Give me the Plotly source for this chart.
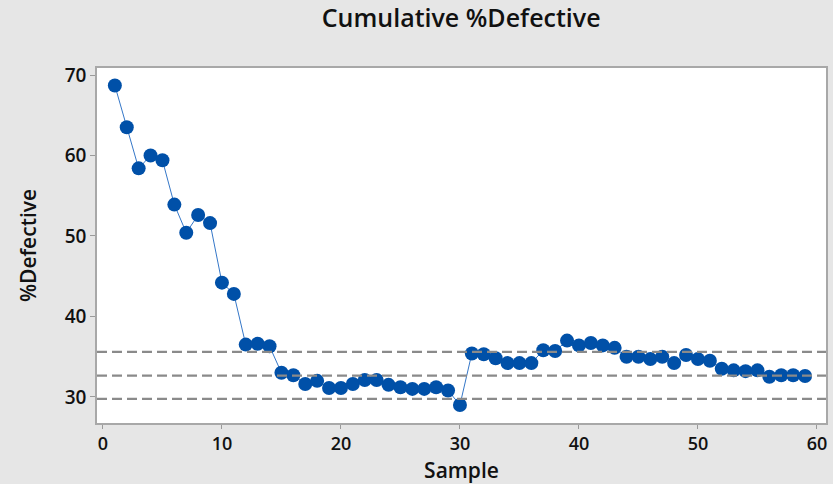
import plotly.graph_objects as go

# Cumulative percent defective per sample
samples = list(range(1, 60))
pct_defective = [
    68.7, 63.5, 58.4, 60.0, 59.4, 53.9, 50.4, 52.6, 51.6, 44.2,
    42.8, 36.5, 36.6, 36.3, 33.0, 32.7, 31.6, 32.0, 31.1, 31.1,
    31.6, 32.1, 32.1, 31.5, 31.2, 31.0, 31.0, 31.2, 30.8, 29.0,
    35.4, 35.3, 34.8, 34.2, 34.2, 34.2, 35.8, 35.7, 37.0, 36.4,
    36.7, 36.4, 36.1, 35.0, 35.0, 34.7, 35.0, 34.2, 35.2, 34.7,
    34.5, 33.5, 33.3, 33.2, 33.3, 32.5, 32.7, 32.7, 32.6,
]
# Reference levels: lower limit, center, upper limit
ref_levels = [29.75, 32.65, 35.6]

x_ticks = [0, 10, 20, 30, 40, 50, 60]
y_ticks = [30, 40, 50, 60, 70]

font_family = "Open Sans, DejaVu Sans, sans-serif"

fig = go.Figure()
fig.add_trace(go.Scatter(
    x=samples, y=pct_defective, mode="lines+markers",
    line=dict(color="#3577c8", width=1),
    marker=dict(color="#0050a8", size=14, symbol="circle"),
    showlegend=False, hoverinfo="x+y",
))

for lvl in ref_levels:
    fig.add_hline(y=lvl, line=dict(color="#8a8a8a", width=2.2, dash="10px,5px"))

fig.update_layout(
    width=833, height=484,
    margin=dict(l=97, r=7, t=68, b=61),
    paper_bgcolor="#e6e6e6", plot_bgcolor="#ffffff",
    font=dict(family=font_family, color="#111111", weight=600),
    title=dict(text="Cumulative %Defective", x=0.5536, xanchor="center",
               y=0.962, yanchor="middle",
               font=dict(size=25, family=font_family, color="#111111",
                         weight=600)),
)
fig.update_xaxes(
    range=[-0.5, 60.76], tickvals=x_ticks, ticks="outside", ticklen=4,
    tickcolor="#9a9a9a", showgrid=False, zeroline=False, automargin=False,
    showline=True, linecolor="#a8a8a8", linewidth=1.5, mirror=True,
    tickfont=dict(size=18, color="#111111", weight=600),
    title=dict(text="Sample", font=dict(size=21, weight=600), standoff=9),
)
fig.update_yaxes(
    range=[26.76, 70.87], tickvals=y_ticks, ticks="outside", ticklen=5,
    tickcolor="#9a9a9a", showgrid=False, zeroline=False, automargin=False,
    showline=True, linecolor="#a8a8a8", linewidth=1.5, mirror=True,
    tickfont=dict(size=19, color="#111111", weight=600),
    title=dict(text="%Defective", font=dict(size=21, weight=600), standoff=22),
)

fig.write_html("out.html")
